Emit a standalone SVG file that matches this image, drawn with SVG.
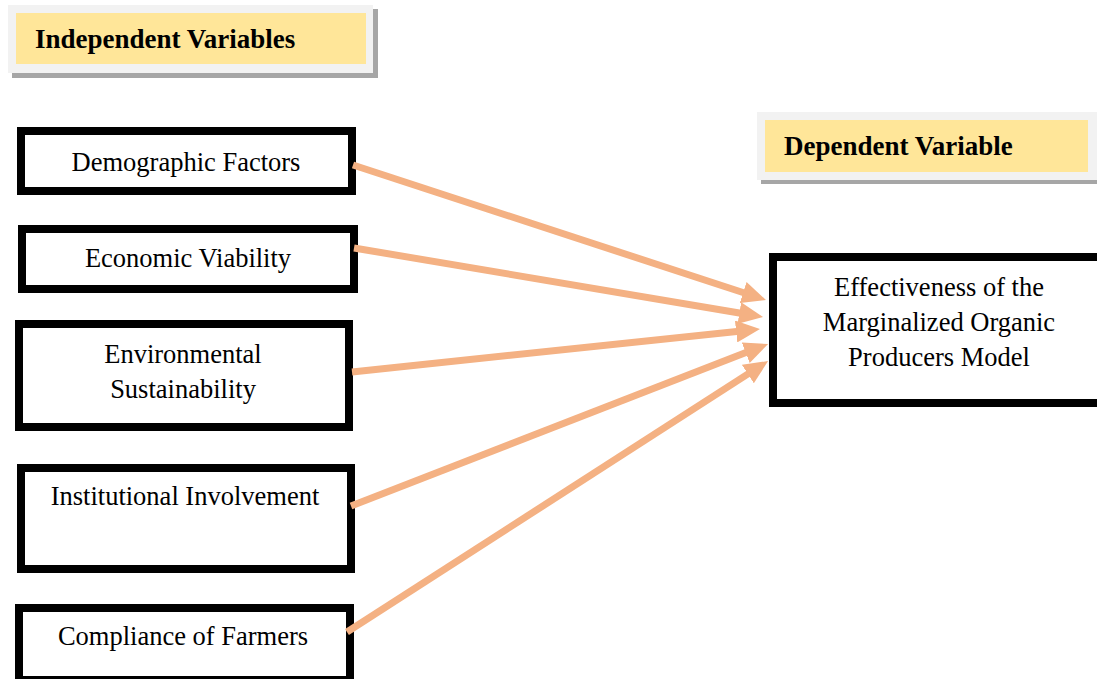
<svg xmlns="http://www.w3.org/2000/svg" width="1097" height="679" viewBox="0 0 1097 679">
<style>
.box{fill:#ffffff;stroke:#000000;stroke-width:8}
.lbl{font-family:"Liberation Serif","Times New Roman",serif;font-size:26.5px;fill:#000;text-anchor:middle}
.hdr{font-family:"Liberation Serif","Times New Roman",serif;font-size:27px;font-weight:bold;fill:#000}
.shadow{fill:#a6a6a6}
.outer{fill:#f2f2f2}
.inner{fill:#ffe699}
.conn{stroke:#f4b183;stroke-width:7;fill:none;marker-end:url(#ah)}
</style>
<defs>
<marker id="ah" viewBox="0 0 24 22" refX="3" refY="11" markerWidth="24" markerHeight="22" markerUnits="userSpaceOnUse" orient="auto">
<path d="M0,0 L24,11 L0,22 Z" fill="#f4b183"/>
</marker>
</defs>
<rect width="1097" height="679" fill="#ffffff"/>
<g id="hdr-independent">
<rect class="shadow" x="12" y="9" width="366" height="69"/>
<rect class="outer" x="8" y="5" width="365" height="68"/>
<rect class="inner" x="16" y="13" width="350" height="51"/>
<text class="hdr" x="35" y="48">Independent Variables</text>
</g>
<g id="hdr-dependent">
<rect class="shadow" x="761" y="116" width="345" height="68"/>
<rect class="outer" x="757" y="112" width="345" height="68"/>
<rect class="inner" x="765" y="120" width="323" height="52"/>
<text class="hdr" x="784" y="155">Dependent Variable</text>
</g>
<g id="node-demographic">
<rect class="box" x="21" y="131" width="331" height="60"/>
<text class="lbl" x="186" y="171">Demographic Factors</text>
</g>
<g id="node-economic">
<rect class="box" x="22" y="229" width="332" height="60"/>
<text class="lbl" x="188" y="267">Economic Viability</text>
</g>
<g id="node-environmental">
<rect class="box" x="19" y="324" width="330" height="103"/>
<text class="lbl" x="183" y="363">Environmental</text>
<text class="lbl" x="183" y="398">Sustainability</text>
</g>
<g id="node-institutional">
<rect class="box" x="21" y="468" width="330" height="101"/>
<text class="lbl" x="185" y="505">Institutional Involvement</text>
</g>
<g id="node-compliance">
<rect class="box" x="19" y="608" width="331" height="72"/>
<text class="lbl" x="183" y="645">Compliance of Farmers</text>
</g>
<g id="node-effectiveness">
<rect class="box" x="773" y="257" width="340" height="146"/>
<text class="lbl" x="939" y="296">Effectiveness of the</text>
<text class="lbl" x="939" y="331">Marginalized Organic</text>
<text class="lbl" x="939" y="366">Producers Model</text>
</g>
<g id="connectors">
<line class="conn" x1="353" y1="165" x2="746" y2="293.5"/>
<line class="conn" x1="354" y1="248" x2="742.3" y2="313.5"/>
<line class="conn" x1="352" y1="372" x2="739.1" y2="331.2"/>
<line class="conn" x1="351" y1="506" x2="748.5" y2="351.6"/>
<line class="conn" x1="347" y1="632" x2="750.4" y2="372.4"/>
</g>
</svg>
